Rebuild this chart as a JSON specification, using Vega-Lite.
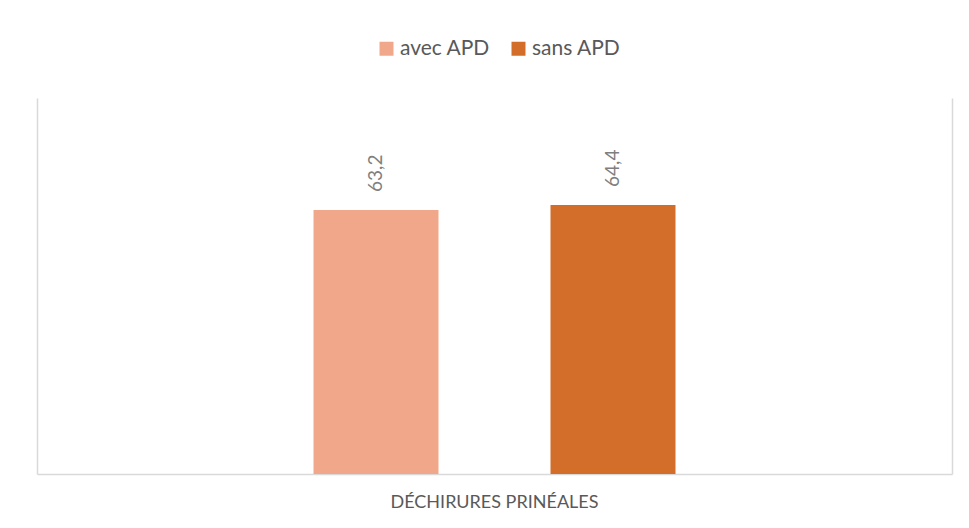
{
  "$schema": "https://vega.github.io/schema/vega-lite/v6.json",
  "autosize": {"type": "none"},
  "width": 915,
  "height": 376,
  "padding": {"left": 37, "top": 98, "right": 17, "bottom": 54},
  "background": "white",
  "config": {
    "font": "Lato",
    "view": {"stroke": null},
    "locale": {"number": {"decimal": ",", "thousands": " ", "grouping": [3], "currency": ["", " €"]}}
  },
  "data": {
    "values": [
      {"categorie": "DÉCHIRURES PRINÉALES", "groupe": "avec APD", "valeur": 63.2},
      {"categorie": "DÉCHIRURES PRINÉALES", "groupe": "sans APD", "valeur": 64.4}
    ]
  },
  "encoding": {
    "x": {
      "field": "categorie",
      "type": "nominal",
      "scale": {"paddingInner": 0, "paddingOuter": 0.2638},
      "axis": {
        "title": null,
        "labelAngle": 0,
        "ticks": false,
        "domain": true,
        "domainColor": "#d9d9d9",
        "domainWidth": 1.5,
        "labelFontSize": 18,
        "labelColor": "#595959",
        "labelPadding": 19,
        "labelLimit": 0
      }
    },
    "xOffset": {
      "field": "groupe",
      "type": "nominal",
      "scale": {"paddingInner": 0.4726, "paddingOuter": 0.5}
    }
  },
  "layer": [
    {
      "mark": {"type": "bar"},
      "encoding": {
        "y": {
          "field": "valeur",
          "type": "quantitative",
          "scale": {"domain": [0, 90], "nice": false},
          "axis": {"title": null, "labels": false, "ticks": false, "grid": false, "domain": true, "domainColor": "#d9d9d9", "domainWidth": 1.5}
        },
        "color": {
          "field": "groupe",
          "type": "nominal",
          "scale": {"domain": ["avec APD", "sans APD"], "range": ["#F1A88A", "#D36E2A"]},
          "legend": {
            "title": null,
            "orient": "none",
            "direction": "horizontal",
            "legendX": 339,
            "legendY": -60,
            "symbolType": "square",
            "symbolSize": 196,
            "symbolStrokeWidth": 0,
            "symbolOpacity": 1,
            "labelFontSize": 21,
            "labelColor": "#595959",
            "labelOffset": 3,
            "columnPadding": 17,
            "padding": 0
          }
        }
      }
    },
    {
      "mark": {"type": "text", "angle": 270, "align": "left", "baseline": "middle", "dx": 18, "fontSize": 19, "color": "#7f7f7f"},
      "encoding": {
        "y": {
          "field": "valeur",
          "type": "quantitative",
          "scale": {"domain": [0, 90], "nice": false},
          "axis": {"orient": "right", "title": null, "labels": false, "ticks": false, "grid": false, "domain": true, "domainColor": "#d9d9d9", "domainWidth": 1.5}
        },
        "text": {"field": "valeur", "type": "quantitative", "format": ".1f"}
      }
    }
  ],
  "resolve": {"axis": {"y": "independent"}}
}
